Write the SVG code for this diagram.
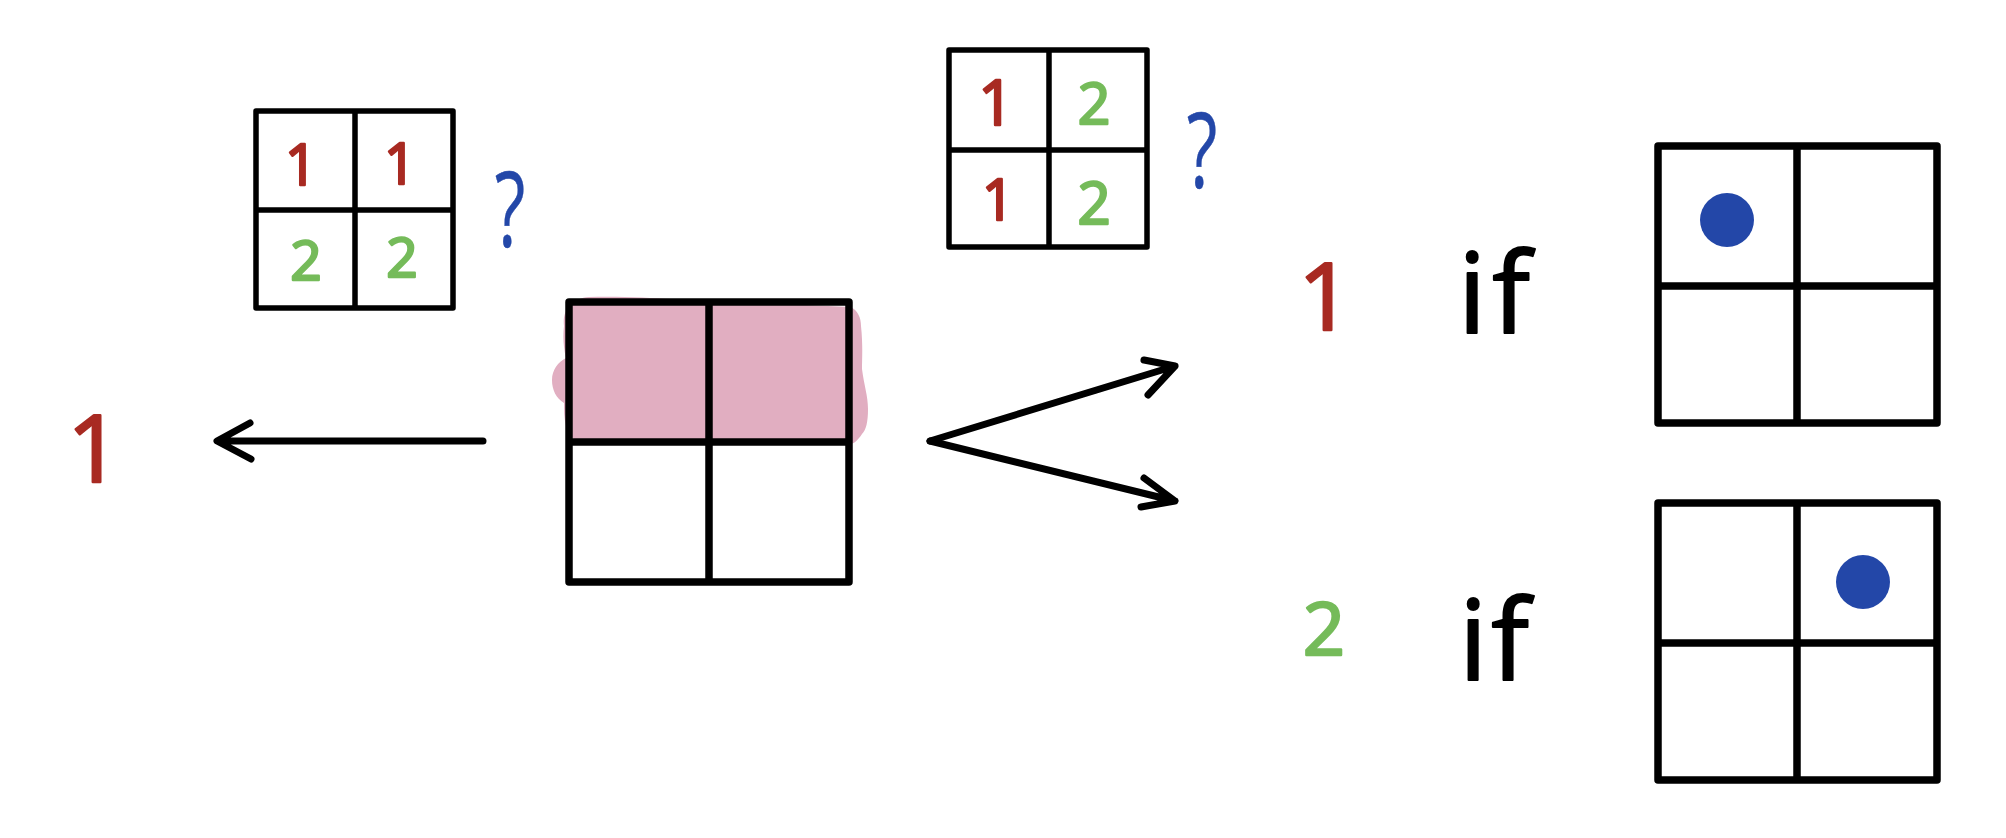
<svg xmlns="http://www.w3.org/2000/svg" width="2006" height="838" viewBox="0 0 2006 838">
<style>
.g{fill:none;stroke:#000;stroke-linejoin:round;stroke-linecap:round}
.s{stroke-width:5.5}
.b{stroke-width:7.5}
.c{fill:none;stroke:#000;stroke-width:7;stroke-linecap:round;stroke-linejoin:round}
text{font-family:"Open Sans","Liberation Sans",sans-serif;text-anchor:middle;stroke-linejoin:round}
.r{fill:#a82a22;stroke:#a82a22;stroke-width:2.5}
.v{fill:#75bb5a;stroke:#75bb5a;stroke-width:2.5}
.q{fill:#2347a8;stroke:#2347a8;stroke-width:.5}
.k{fill:#000;stroke:#000;stroke-width:2}
.d{fill:#2347a8}
</style>
<path id="highlight" fill="#e1aec1" d="M564 326C562 310 572 298 589 297C620 296 650 298 672 299L850 307C858 310 861 318 861 326C863 345 862 358 862 369C864 385 868 396 868 409C868 422 866 430 862 434C858 440 854 444 850 444L593 441L574 439C570 436 566 432 566 426C564 418 564 410 564 403C556 398 552 390 552 380C552 370 558 362 566 358C563 345 563 335 564 326Z"/>
<g id="grid-center"><path class="g b" d="M569 302H849V582H569ZM709 302V582M569 442H849"/></g>
<g id="grid-rows"><path class="g s" d="M256 111H453V308H256ZM355 111V308M256 210H453"/>
<text class="r" x="301" y="185" font-size="56">1</text><text class="r" x="400" y="184" font-size="56">1</text>
<text class="v" x="306" y="280" font-size="55">2</text><text class="v" x="402" y="277" font-size="55">2</text></g>
<text id="q1" class="q" transform="translate(510 247) scale(.68 1)" font-size="104">?</text>
<g id="grid-cols"><path class="g s" d="M949 50H1147V247H949ZM1049 50V247M949 150H1147"/>
<text class="r" x="996" y="125" font-size="62">1</text><text class="r" x="998" y="220" font-size="56">1</text>
<text class="v" x="1094" y="124" font-size="57">2</text><text class="v" x="1094" y="224" font-size="58">2</text></g>
<text id="q2" class="q" transform="translate(1202 188) scale(.68 1)" font-size="104">?</text>
<text id="out-left" class="r" x="94" y="482" font-size="94">1</text>
<g id="connectors">
<path class="c" d="M483 441H219M250 423L217 441L251 459"/>
<path class="c" d="M930 441L1175 366M1144 360L1175 366L1148 395"/>
<path class="c" d="M930 441L1175 501M1144 478L1175 501L1141 507"/>
</g>
<text id="val1" class="r" x="1325" y="330" font-size="94">1</text>
<text id="if1" class="k" x="1494" y="333" font-size="112" textLength="72" lengthAdjust="spacing">if</text>
<g id="grid-dot1"><path class="g b" d="M1658 146H1937V423H1658ZM1797 146V423M1658 286H1937"/><circle class="d" cx="1727" cy="220" r="27"/></g>
<text id="val2" class="v" x="1324" y="655" font-size="74">2</text>
<text id="if2" class="k" x="1494" y="680" font-size="112" textLength="70" lengthAdjust="spacing">if</text>
<g id="grid-dot2"><path class="g b" d="M1658 503H1937V780H1658ZM1797 503V780M1658 643H1937"/><circle class="d" cx="1863" cy="582" r="27"/></g>
</svg>
